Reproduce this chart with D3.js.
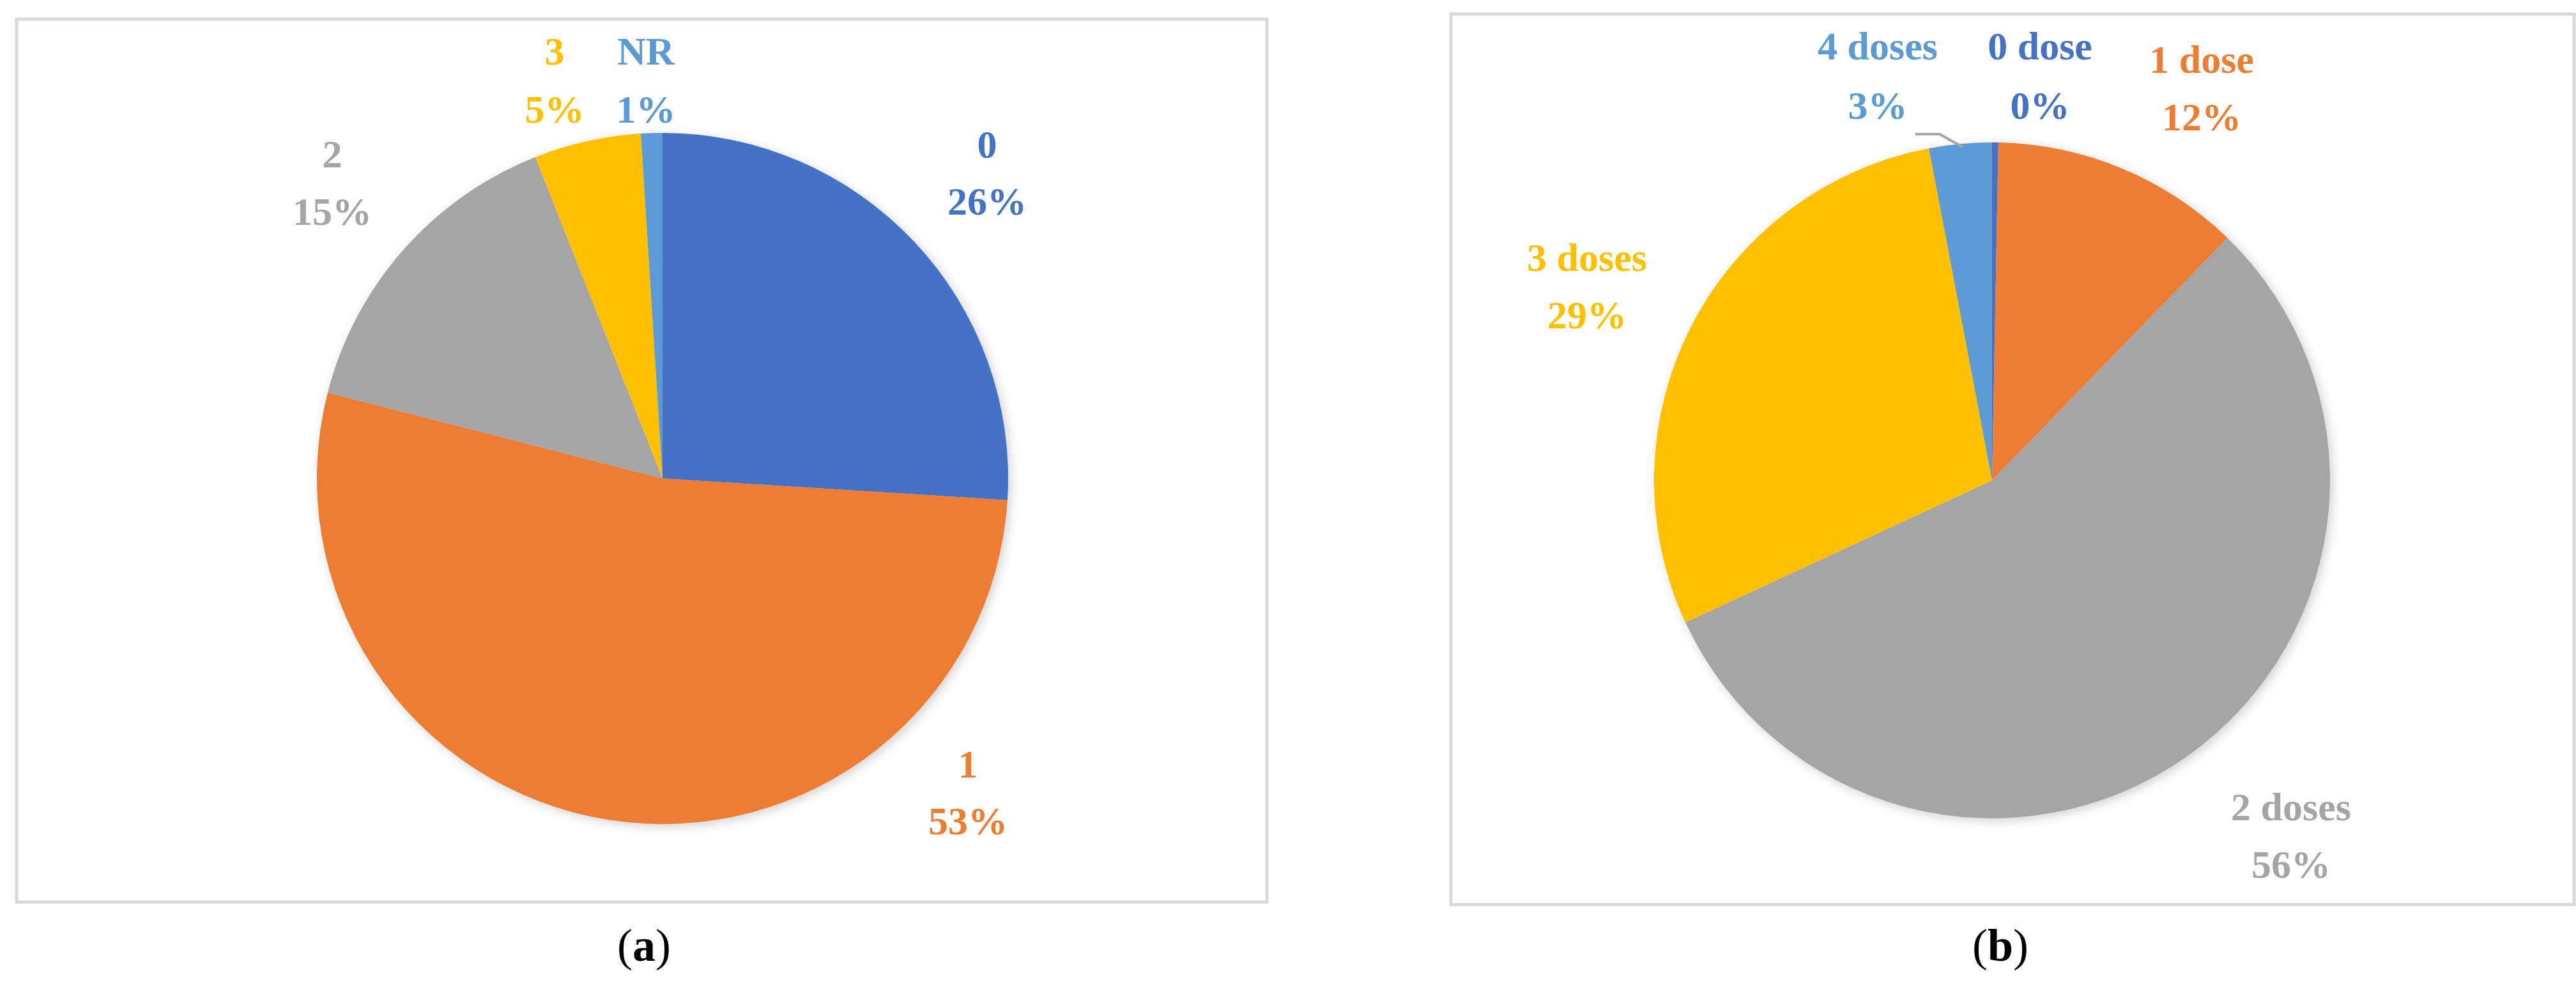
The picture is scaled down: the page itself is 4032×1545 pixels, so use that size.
<!DOCTYPE html>
<html><head><meta charset="utf-8">
<script src="https://cdn.jsdelivr.net/npm/d3@7"></script>
<style>body{margin:0;background:#fff}svg{display:block}</style>
</head><body>
<svg id="c" width="4032" height="1545"></svg>
<script>
const catsA = ["0","1","2","3","NR"];
const valsA = [26,53,15,5,1];
const catsB = ["0 dose","1 dose","2 doses","3 doses","4 doses"];
const valsB = [0.3,12,56,29,3];
const pctB = ["0%","12%","56%","29%","3%"];
const colorsA = ["#4472C4","#ED7D31","#A5A5A5","#FFC000","#5B9BD5"];
const colorsB = ["#4472C4","#ED7D31","#A5A5A5","#FFC000","#5B9BD5"];

const svg = d3.select("#c");
const defs = svg.append("defs");
const f = defs.append("filter").attr("id","sh").attr("x","-10%").attr("y","-10%").attr("width","120%").attr("height","120%");
f.append("feDropShadow").attr("dx",4).attr("dy",4).attr("stdDeviation",8).attr("flood-color","#000").attr("flood-opacity",0.18);

const font = "'Liberation Serif','DejaVu Serif',serif";

function panel(cfg){
  svg.append("rect").attr("x",cfg.box[0]).attr("y",cfg.box[1]).attr("width",cfg.box[2]-cfg.box[0]).attr("height",cfg.box[3]-cfg.box[1])
    .attr("fill","#fff").attr("stroke","#D9D9D9").attr("stroke-width",5);
  const pie = d3.pie().sort(null)(cfg.vals);
  const arc = d3.arc().innerRadius(0).outerRadius(cfg.r);
  const g = svg.append("g").attr("transform",`translate(${cfg.cx},${cfg.cy})`).attr("filter","url(#sh)");
  g.selectAll("path").data(pie).join("path").attr("d",arc).attr("fill",(d,i)=>cfg.colors[i]);
  if(cfg.leader){
    svg.append("polyline").attr("points",cfg.leader.map(p=>p.join(",")).join(" "))
      .attr("fill","none").attr("stroke","#A5A5A5").attr("stroke-width",4);
  }
  cfg.cats.forEach((c,i)=>{
    const [x,y1,y2] = cfg.labelPos[i];
    const t = svg.append("g").attr("font-family",font).attr("font-weight","bold").attr("font-size",62)
      .attr("fill",cfg.colors[i]).attr("text-anchor","middle").attr("dominant-baseline","middle");
    t.append("text").attr("x",x).attr("y",y1).text(c);
    t.append("text").attr("x",x).attr("y",y2).text(cfg.pct[i]);
  });
  const cap = svg.append("text").attr("x",cfg.capX).attr("y",1487).attr("font-family",font).attr("font-size",72)
    .attr("text-anchor","middle").attr("dominant-baseline","middle").attr("fill","#000");
  cap.append("tspan").text("(");
  cap.append("tspan").attr("font-weight","bold").text(cfg.cap);
  cap.append("tspan").text(")");
}

panel({box:[26,30,1983,1412], cx:1037, cy:749, r:541, vals:valsA, cats:catsA, pct:valsA.map(v=>v+"%"), colors:colorsA,
  labelPos:[[1545,233,322],[1515,1203,1292],[520,248,338],[868,87,178],[1011,87,178]], capX:1008, cap:"a"});
panel({box:[2271,22,4029,1416], cx:3118, cy:752, r:529, vals:valsB, cats:catsB, pct:pctB, colors:colorsB,
  labelPos:[[3193,79,172],[3446,100,190],[3586,1270,1360],[2484,410,500],[2939,79,172]], capX:3131, cap:"b",
  leader:[[2998,210],[3036,210],[3072,230]]});
</script>
</body></html>
